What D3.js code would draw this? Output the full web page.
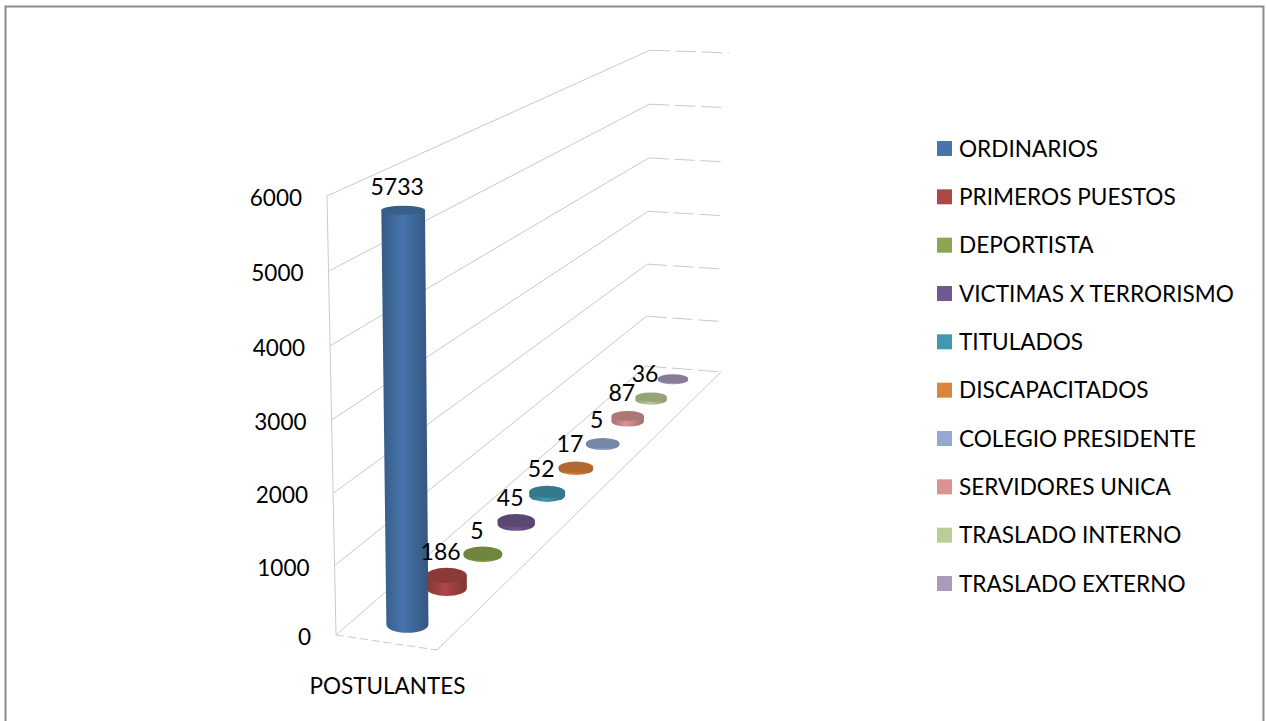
<!DOCTYPE html>
<html>
<head>
<meta charset="utf-8">
<script src="https://cdn.jsdelivr.net/npm/d3@7"></script>
<style>
  html, body { margin: 0; padding: 0; background: #fff; }
  svg { display: block; }
  text { font-family: Lato, "Open Sans", sans-serif; fill: #000; }
</style>
</head>
<body>
<div id="chart"></div>
<script>
const categorias = ["ORDINARIOS", "PRIMEROS PUESTOS", "DEPORTISTA", "VICTIMAS X TERRORISMO", "TITULADOS",
  "DISCAPACITADOS", "COLEGIO PRESIDENTE", "SERVIDORES UNICA", "TRASLADO INTERNO", "TRASLADO EXTERNO"];
const valores = [5733, 186, 5, 45, 52, 17, 5, 87, 36, 2];
const etiquetas = ["5733", "186", "5", "45", "52", "17", "5", "87", "36", ""];
const marcas = [0, 1000, 2000, 3000, 4000, 5000, 6000];
const colores = ["#4675ac", "#ad4846", "#8ba650", "#71588f", "#4198af",
  "#db843d", "#93a9cf", "#d89492", "#b9cd96", "#a99bbd"];
const eje = "POSTULANTES";

const width = 1266;
const height = 721;

const svg = d3
  .select("#chart")
  .append("svg")
  .attr("width", width)
  .attr("height", height)
  .attr("viewBox", [0, 0, width, height]);

// floor corners of the 3D box, as they sit in the picture
const A = [336, 635]; // front left
const B = [437, 650]; // front right
const C = [721, 372]; // back right
const D = [646, 366]; // back left
const k = 0.44; // how much the floor shrinks towards the back
const kh = 0.39; // same for heights

const zScale = d3.scalePoint().domain(categorias).range([0, 1]).padding(0.5);
const yScale = d3.scalePow().exponent(1.03).domain([0, 6000]).range([0, 439]);
const color = d3.scaleOrdinal().domain(categorias).range(colores);

// u across the floor, d into the depth, v value
const project = (u, d, v) => {
  const s = (d * (1 + k)) / (1 + k * d);
  const lx = A[0] + s * (D[0] - A[0]);
  const ly = A[1] + s * (D[1] - A[1]);
  const rx = B[0] + s * (C[0] - B[0]);
  const ry = B[1] + s * (C[1] - B[1]);
  const lean = (v / 6000) * (-9 + 8 * u + 13 * d - 4 * u * d);
  return [
    lx + u * (rx - lx) + lean,
    ly + u * (ry - ly) - (yScale(v) * (1 + 0.01 * u)) / (1 + kh * d),
  ];
};

// frame, no bottom side
svg
  .append("path")
  .attr("d", `M5.5,721V6.5H1263.5V721`)
  .attr("fill", "none")
  .attr("stroke", "#8c8c8c")
  .attr("stroke-width", 2);

const line = d3.line();
const grid = svg.append("g").attr("fill", "none").attr("stroke", "#c9c9c9");

grid
  .selectAll(".side")
  .data(marcas)
  .join("path")
  .attr("d", (v) => line([project(0, 0, v), project(0, 1, v)]));
grid
  .selectAll(".back")
  .data(marcas)
  .join("path")
  .attr("stroke-dasharray", "20 6")
  .attr("d", (v) => line([project(0, 1, v), project(1, 1, v)]));
grid.append("path").attr("d", line([project(0, 0, 0), project(0, 0, 6000)]));
grid.append("path").attr("d", line([project(0, 0, 0), project(1, 0, 0)])).attr("stroke-dasharray", "8 4");
grid.append("path").attr("d", line([project(1, 0, 0), project(1, 1, 0)]));

// value axis, labels follow the lean of the left edge
const axisScale = d3.scalePow().exponent(1.03).domain([0, 6000]).range([A[1], A[1] - 439]);
const gy = svg
  .append("g")
  .call(d3.axisLeft(axisScale).tickValues(marcas).tickSize(0).tickFormat(d3.format("d")));
gy.select(".domain").remove();
gy.selectAll("text")
  .attr("x", (v) => project(0, 0, v)[0] - 25)
  .attr("dy", "0.42em")
  .style("font-size", "22.5px")
  .style("font-family", "Lato, 'Open Sans', sans-serif");

svg
  .append("text")
  .attr("x", 387.5)
  .attr("y", 694)
  .attr("text-anchor", "middle")
  .style("font-size", "22.5px")
  .text(eje);

// cylinders, far ones first
const defs = svg.append("defs");
const rows = categorias.map((c, i) => ({ c, v: valores[i], label: etiquetas[i], i }));

rows.forEach((r) => {
  const grad = defs.append("linearGradient").attr("id", `cyl${r.i}`);
  const base = d3.color(color(r.c));
  grad.append("stop").attr("offset", 0).attr("stop-color", base.darker(0.75));
  grad.append("stop").attr("offset", 0.45).attr("stop-color", base);
  grad.append("stop").attr("offset", 1).attr("stop-color", base.darker(0.85));
});

const lip = 1.2;
const radii = (d, v) => {
  const f = 1 + k * d;
  return {
    rx: (21.5 * (1 + 0.04 * (v / 6000))) / f,
    ry: ((8.8 * (1 - 0.48 * (v / 6000))) / f) / f,
  };
};

const bars = svg
  .append("g")
  .selectAll("g")
  .data(rows.slice().reverse())
  .join("g");

bars
  .append("path")
  .attr("fill", (r) => `url(#cyl${r.i})`)
  .attr("d", (r) => {
    const d = zScale(r.c);
    const [bx, by] = project(0.5, d, 0);
    const [tx, ty] = project(0.5, d, r.v);
    const b = radii(d, 0);
    const t = radii(d, r.v);
    return (
      `M${tx - t.rx},${ty}L${bx - b.rx},${by + lip}` +
      `A${b.rx},${b.ry} 0 0 0 ${bx + b.rx},${by + lip}` +
      `L${tx + t.rx},${ty}Z`
    );
  });

bars
  .append("ellipse")
  .attr("cx", (r) => project(0.5, zScale(r.c), r.v)[0])
  .attr("cy", (r) => project(0.5, zScale(r.c), r.v)[1])
  .attr("rx", (r) => radii(zScale(r.c), r.v).rx)
  .attr("ry", (r) => radii(zScale(r.c), r.v).ry)
  .attr("fill", (r) => d3.color(color(r.c)).darker(0.62));

svg
  .append("g")
  .selectAll("text")
  .data(rows)
  .join("text")
  .attr("x", (r) => project(0.5, zScale(r.c), r.v)[0] - 6)
  .attr("y", (r) => project(0.5, zScale(r.c), r.v)[1] - 15)
  .attr("text-anchor", "middle")
  .style("font-size", "23px")
  .text((r) => r.label);

// legend
const legendY = d3.scalePoint().domain(categorias).range([148, 583]);
const legend = svg
  .append("g")
  .selectAll("g")
  .data(categorias)
  .join("g")
  .attr("transform", (c) => `translate(937, ${legendY(c)})`);
legend
  .append("rect")
  .attr("y", -7)
  .attr("width", 15)
  .attr("height", 15)
  .attr("fill", (c) => color(c));
legend
  .append("text")
  .attr("x", 22)
  .attr("y", 8.5)
  .style("font-size", "22.6px")
  .text((c) => c);
</script>
</body>
</html>
